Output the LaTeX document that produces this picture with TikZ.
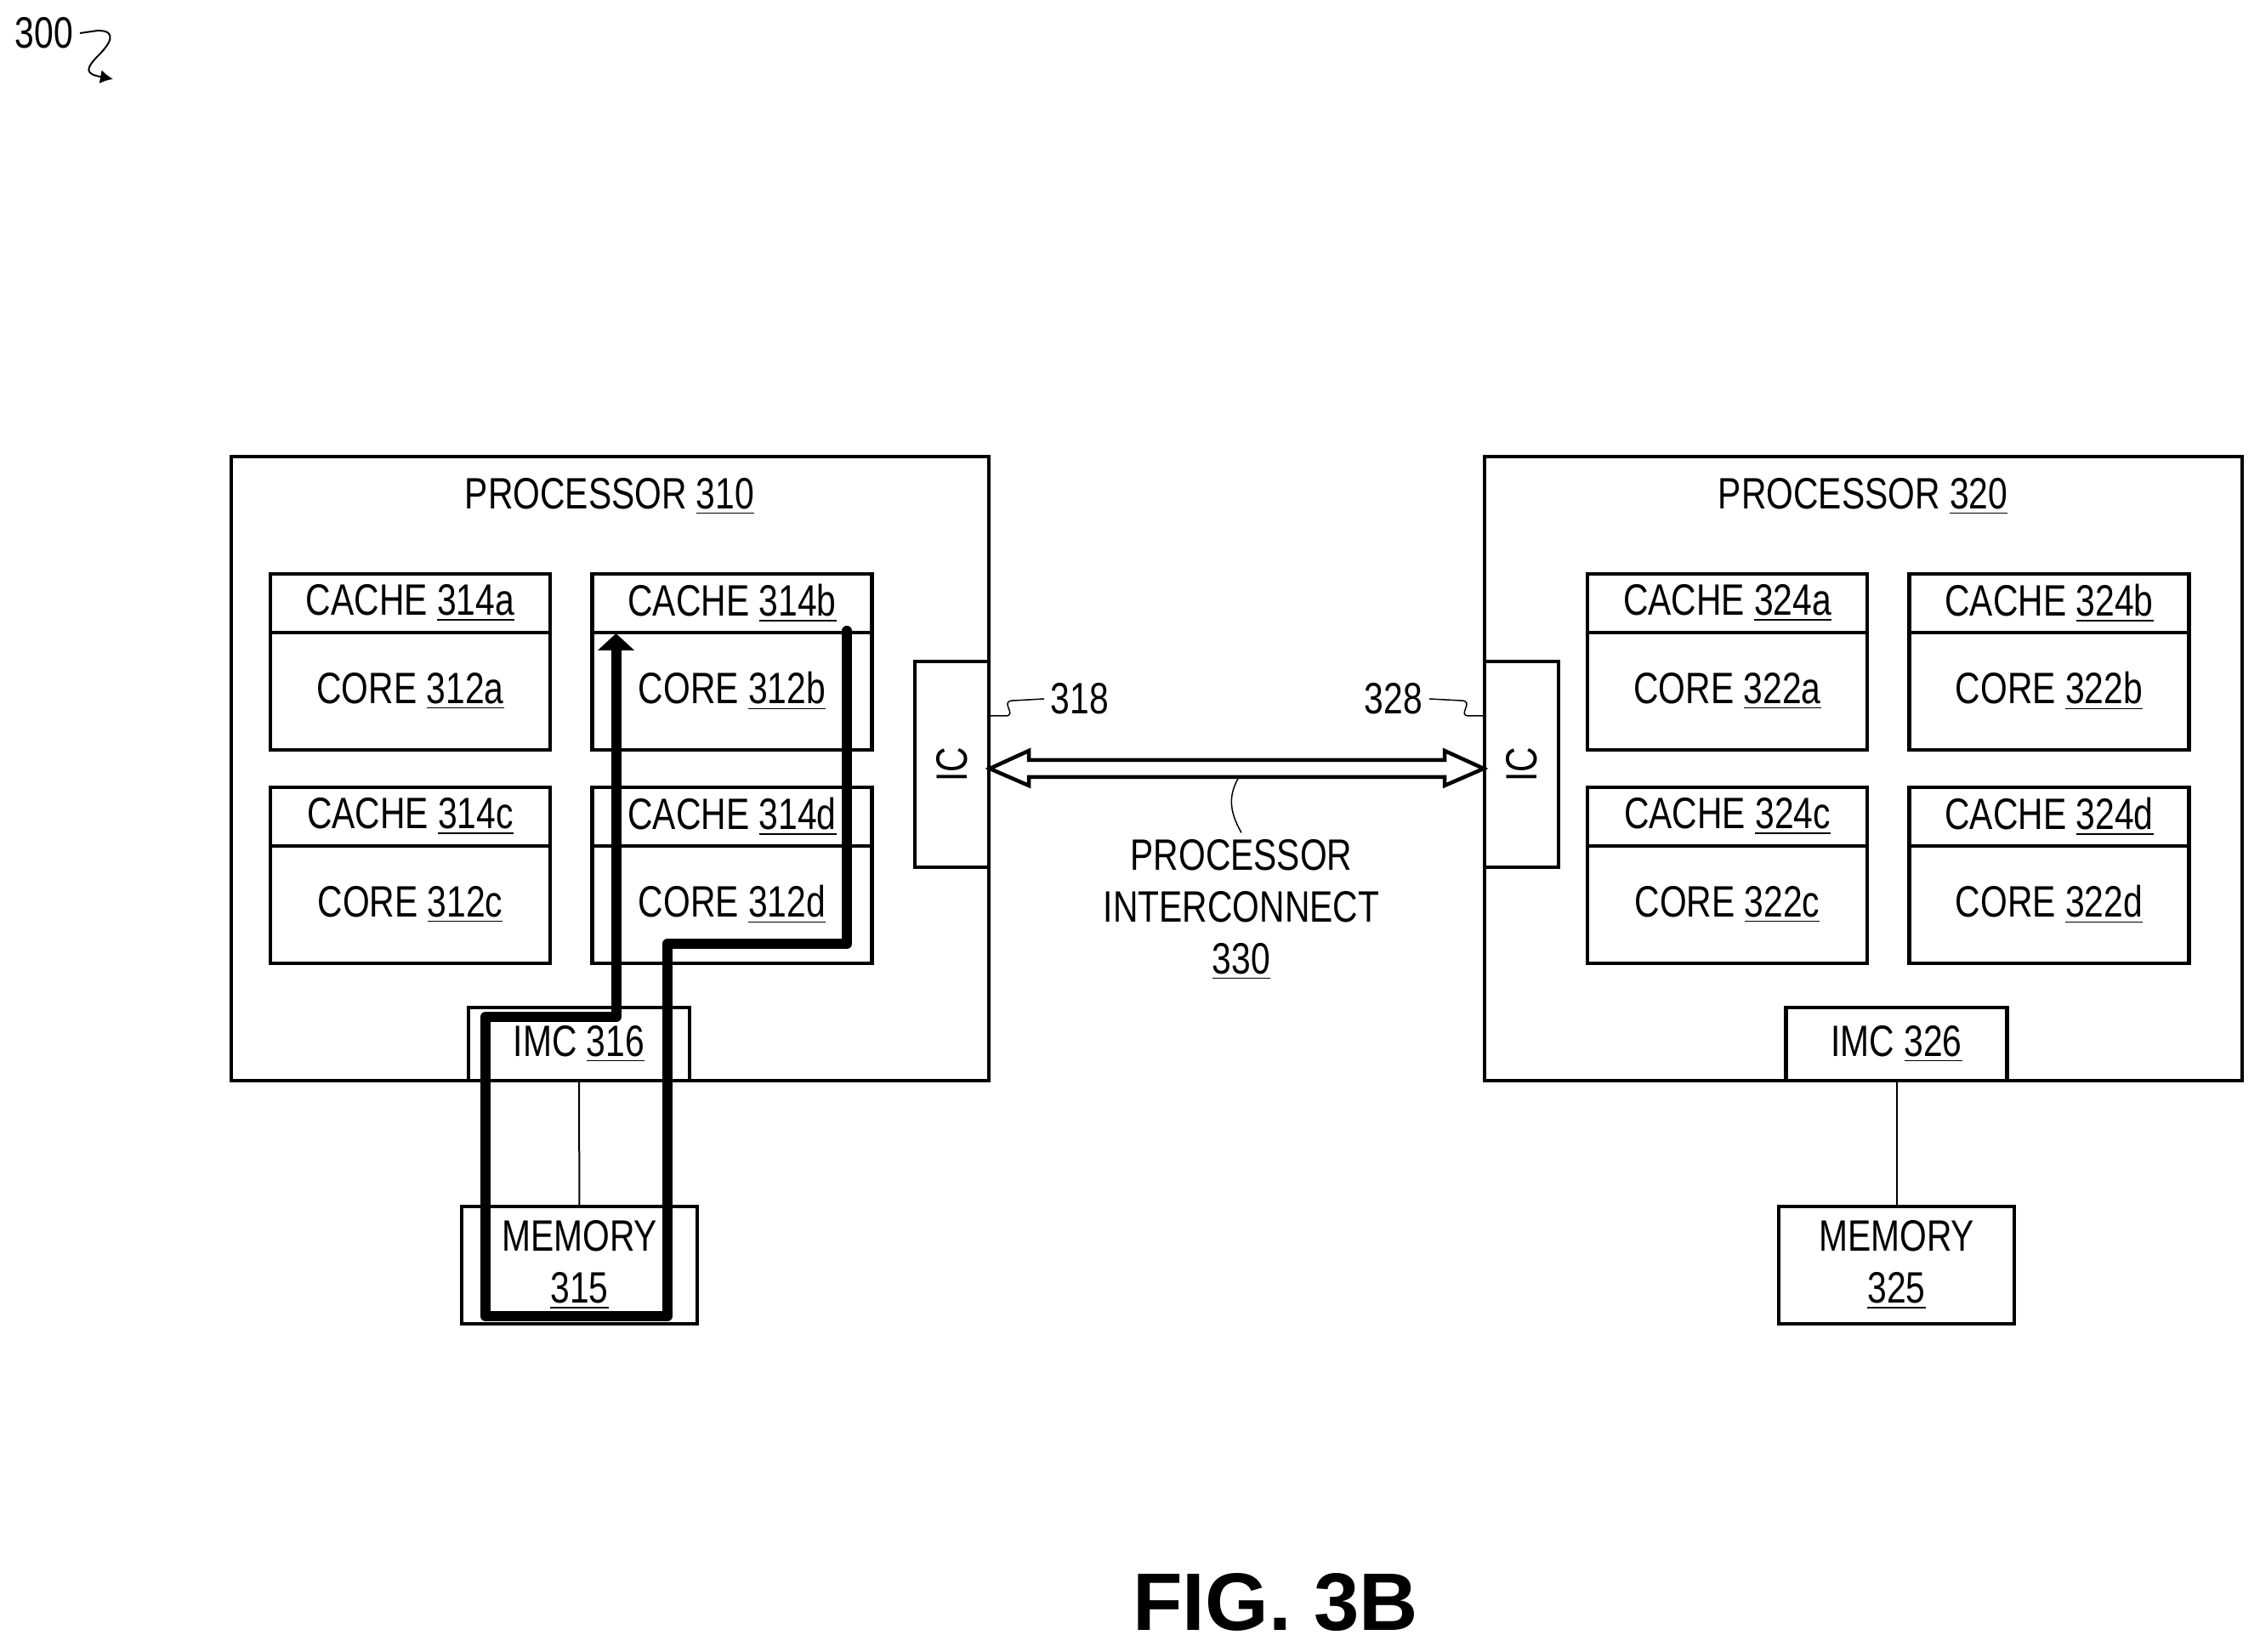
\documentclass[tikz,border=0pt]{standalone}
\usepackage{fontspec}
\setmainfont{Liberation Sans}[FakeStretch=0.79]
\newfontfamily\figfont{Liberation Sans}
\usetikzlibrary{arrows.meta}

\newcommand{\refnum}[1]{\underline{#1}}

\tikzset{
  every node/.style={font=\fontsize{14.7pt}{17.3pt}\selectfont},
  box/.style={draw=black,line width=.045cm,inner sep=0,outer sep=0},
  procbox/.style={box,minimum width=8.91cm,minimum height=7.34cm},
  cachebox/.style={box,minimum width=3.29cm,minimum height=.69cm},
  corebox/.style={box,minimum width=3.29cm,minimum height=1.38cm},
  icbox/.style={box,minimum width=.87cm,minimum height=2.42cm},
  imcbox/.style={box,minimum width=2.60cm,minimum height=.86cm},
  membox/.style={box,minimum width=2.77cm,minimum height=1.38cm,align=center},
  tag/.style={inner sep=.08cm,outer sep=0,align=center},
  leader/.style={black,line width=.015cm},
  wire/.style={black,line width=.02cm},
  linkarrow/.style={black,line width=.045cm,line join=miter},
  flow/.style={black,line width=.12cm,line join=round,line cap=round}
}

\begin{document}
\begin{tikzpicture}
  \useasboundingbox (0,0) rectangle (26.58,19.43);

  % Reference numeral of the figure
  \node[tag] (tag300) at (.52,19.04) {300};
  \draw[leader,line width=.02cm,-{Latex[length=.15cm,width=.16cm]}] (tag300.east) -- (1.15,19.07)
    .. controls (1.40,19.07) and (1.28,18.90) .. (1.16,18.78)
    .. controls (1.00,18.62) and (1.00,18.56) .. (1.33,18.50);

  % Left processor
  \node[procbox] (proc310) at (7.175,10.39) {};
  \node[tag] (title310) at (7.17,13.59) {PROCESSOR \refnum{310}};
  \node[cachebox] (cache314a) at (4.825,12.335) {CACHE \refnum{314a}};
  \node[corebox]  (core312a)  at (4.825,11.30)  {CORE \refnum{312a}};
  \node[cachebox] (cache314b) at (8.61,12.335)  {CACHE \refnum{314b}};
  \node[corebox]  (core312b)  at (8.61,11.30)   {CORE \refnum{312b}};
  \node[cachebox] (cache314c) at (4.825,9.825)  {CACHE \refnum{314c}};
  \node[corebox]  (core312c)  at (4.825,8.79)   {CORE \refnum{312c}};
  \node[cachebox] (cache314d) at (8.61,9.825)   {CACHE \refnum{314d}};
  \node[corebox]  (core312d)  at (8.61,8.79)    {CORE \refnum{312d}};
  \node[icbox] (ic318) at (11.195,10.44) {\rotatebox{90}{IC}\hspace{.17cm}};
  \node[imcbox] (imc316) at (6.81,7.15) {IMC \refnum{316}};
  \node[membox] (mem315) at (6.815,4.55) {MEMORY\\\refnum{315}};

  % Right processor
  \node[procbox] (proc320) at (21.915,10.39) {};
  \node[tag] (title320) at (21.91,13.59) {PROCESSOR \refnum{320}};
  \node[cachebox] (cache324a) at (20.315,12.335) {CACHE \refnum{324a}};
  \node[corebox]  (core322a)  at (20.315,11.30)  {CORE \refnum{322a}};
  \node[cachebox] (cache324b) at (24.10,12.335)  {CACHE \refnum{324b}};
  \node[corebox]  (core322b)  at (24.10,11.30)   {CORE \refnum{322b}};
  \node[cachebox] (cache324c) at (20.315,9.825)  {CACHE \refnum{324c}};
  \node[corebox]  (core322c)  at (20.315,8.79)   {CORE \refnum{322c}};
  \node[cachebox] (cache324d) at (24.10,9.825)   {CACHE \refnum{324d}};
  \node[corebox]  (core322d)  at (24.10,8.79)    {CORE \refnum{322d}};
  \node[icbox] (ic328) at (17.895,10.44) {\rotatebox{90}{IC}\hspace{.17cm}};
  \node[imcbox] (imc326) at (22.305,7.15) {IMC \refnum{326}};
  \node[membox] (mem325) at (22.305,4.55) {MEMORY\\\refnum{325}};

  % Memory links
  \draw[wire] (imc316) -- (mem315);
  \draw[wire] (imc326) -- (mem325);

  % Processor interconnect
  \coordinate (linkl) at (11.64,10.39);
  \coordinate (linkr) at (17.45,10.39);
  \draw[linkarrow] (linkl) -- ++(.46,.21) -- ++(0,-.11) -- ++(4.89,0) -- ++(0,.11)
    -- (linkr) -- ++(-.46,-.20) -- ++(0,.10) -- ++(-4.89,0) -- ++(0,-.10) -- cycle;
  \node[tag] (tag330) at (14.60,8.73) {PROCESSOR\\INTERCONNECT\\\refnum{330}};
  \coordinate (linkb) at (14.57,10.29);
  \draw[leader] (linkb) .. controls (14.45,10.08) and (14.45,9.90) .. (tag330.north);

  % Interface tags
  \node[tag] (tag318) at (12.70,11.21) {318};
  \node[tag] (tag328) at (16.39,11.21) {328};
  \coordinate (tap318) at (11.64,11.01);
  \coordinate (tap328) at (17.46,11.01);
  \draw[leader] (tap318) -- (11.82,11.01)
    .. controls (11.98,11.01) and (11.74,11.19) .. (11.92,11.19) -- (tag318.west);
  \draw[leader] (tap328) -- (17.28,11.01)
    .. controls (17.12,11.01) and (17.36,11.19) .. (17.18,11.19) -- (tag328.east);

  % Access path through memory
  \coordinate (flowstart) at (9.96,12.01);
  \coordinate (flowend) at (7.245,11.98);
  \draw[flow,-{Triangle[length=.2cm,width=.42cm]}] (flowstart) -- (9.96,8.33) -- (7.85,8.33)
    -- (7.85,3.95) -- (5.71,3.95) -- (5.71,7.47) -- (7.245,7.47) -- (flowend);

  % Figure caption
  \node[tag,font=\figfont\fontsize{27.3pt}{30pt}\selectfont\bfseries] (figcap) at (15.00,.58) {FIG. 3B};

\end{tikzpicture}
\end{document}
